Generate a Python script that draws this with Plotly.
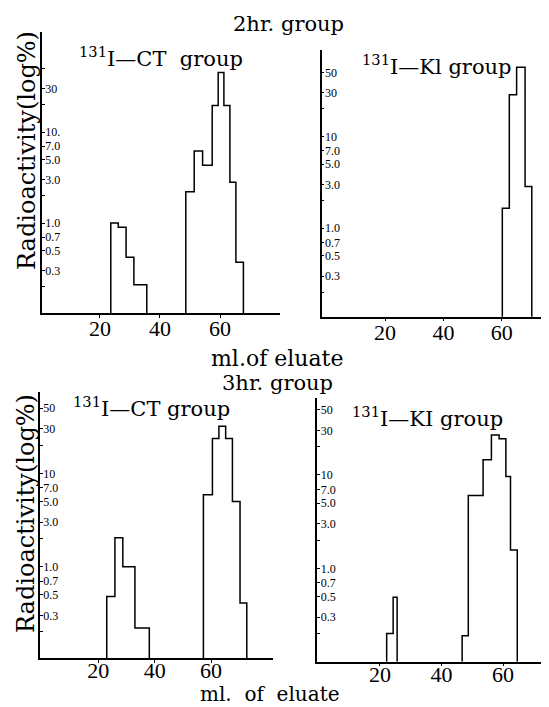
import plotly.graph_objects as go

PAGE_W, PAGE_H = 549, 707
OFF = 8  # default HTML body margin around the plot div
W, H = PAGE_W - OFF, PAGE_H - OFF
BASE = 0.1

# ---------------- data (ml of eluate edges, radioactivity %) ----------------
p1_edges_a = [23.6, 26.1, 28.7, 31.3, 35.6]
p1_vals_a = [1.0, 0.9, 0.42, 0.21]
p1_edges_b = [48.6, 51.4, 54.2, 57.4, 59.4, 61.3, 63.3, 65.3, 67.8]
p1_vals_b = [2.2, 6.2, 4.3, 19.6, 45, 19.6, 2.8, 0.37]

p2_edges_a = [60.2, 62.6, 65.1, 68.0, 70.3]
p2_vals_a = [1.65, 28.5, 57, 2.85]

p3_edges_a = [23.0, 25.9, 28.7, 33.0, 38.1]
p3_vals_a = [0.48, 2.05, 1.0, 0.22]
p3_edges_b = [57.3, 60.5, 62.8, 65.2, 67.6, 70.3, 72.7]
p3_vals_b = [5.9, 23.7, 32, 23.7, 5.0, 0.41]

p4_edges_a = [22.2, 24.3, 25.6]
p4_vals_a = [0.2, 0.49]
p4_edges_b = [46.7, 48.7, 53.5, 56.2, 58.7, 60.9, 62.4, 64.6]
p4_vals_b = [0.19, 6.0, 14.5, 26.8, 24.3, 9.6, 1.57]

x_ticks = [20, 40, 60]
y_tickvals_p1 = [0.3, 0.5, 0.7, 1, 3, 5, 7, 10, 30]
y_ticktext_p1 = ["0.3", "0.5", "0.7", "1.0", "3.0", "5.0", "7.0", "10.", "30"]
y_tickvals = [0.3, 0.5, 0.7, 1, 3, 5, 7, 10, 30, 50]
y_ticktext = ["0.3", "0.5", "0.7", "1.0", "3.0", "5.0", "7.0", "10", "30", "50"]
y_minor_p1 = [0.2, 2, 20, 50]
y_minor = [0.2, 2, 20]

panel_labels = ["<sup>131</sup>I\u2014CT  group", "<sup>131</sup>I\u2014Kl group",
                "<sup>131</sup>I\u2014CT group", "<sup>131</sup>I\u2014KI group"]
group_titles = ["2hr. group", "3hr. group"]
x_title_top = "ml.of eluate"
x_title_bottom = "ml.  of  eluate"
y_title = "Radioactivity(log%)"

# --------------- layout geometry (page pixels) ---------------
# (x0, x1, xr0, xr1, ytop, ybot, yr_top, yr_bot)
panels = [
    (42, 280, 0.67, 80.0, 32, 313, 2.099, -0.989),
    (321.7, 549, -1.71, 76.2, 50, 316.7, 1.944, -0.964),
    (40, 273, -0.69, 82.0, 392, 658, 1.873, -0.978),
    (317.3, 549, -0.32, 74.9, 398.3, 661.7, 1.82, -1.0),
]

SERIF = "DejaVu Serif"
NUM = "Liberation Serif"

def fx(px):
    return (px - OFF) / W

def fy(py):
    return 1 - (py - OFF) / H

def step_xy(edges, vals):
    xs = [edges[0]] + list(edges)
    ys = [BASE] + list(vals) + [BASE]
    return xs, ys

fig = go.Figure()
data = [
    [(p1_edges_a, p1_vals_a), (p1_edges_b, p1_vals_b)],
    [(p2_edges_a, p2_vals_a)],
    [(p3_edges_a, p3_vals_a), (p3_edges_b, p3_vals_b)],
    [(p4_edges_a, p4_vals_a), (p4_edges_b, p4_vals_b)],
]

for i, groups in enumerate(data):
    sfx = "" if i == 0 else str(i + 1)
    for edges, vals in groups:
        xs, ys = step_xy(edges, vals)
        fig.add_trace(go.Scatter(x=xs, y=ys, mode="lines", line_shape="hv",
                                 line=dict(color="black", width=1.5),
                                 xaxis="x" + sfx, yaxis="y" + sfx,
                                 showlegend=False, hoverinfo="skip", cliponaxis=False))

layout = dict(width=W, height=H, margin=dict(l=0, r=0, t=0, b=0, autoexpand=False),
              paper_bgcolor="white", plot_bgcolor="white", showlegend=False)

for i, (x0, x1, xr0, xr1, yt, yb, yrt, yrb) in enumerate(panels):
    sfx = "" if i == 0 else str(i + 1)
    d0, d1 = max(fx(x0), 0), min(fx(x1), 1)
    span = (xr1 - xr0) / (x1 - x0)
    xr1c = xr0 + span * (min(x1, OFF + W) - x0)
    layout["xaxis" + sfx] = dict(
        domain=[d0, d1], range=[xr0, xr1c], anchor="y" + sfx, automargin=False,
        showgrid=False, zeroline=False, showline=True, linecolor="black", linewidth=1.5,
        tickvals=x_ticks, ticks="outside", ticklen=3, tickcolor="black",
        tickfont=dict(family=NUM, size=22, color="black"),
        ticklabelstandoff=(-8 if i < 2 else -11))
    layout["yaxis" + sfx] = dict(
        domain=[fy(yb), fy(yt)], range=[yrb, yrt], type="log",
        anchor="x" + sfx, automargin=False,
        showgrid=False, zeroline=False, showline=True, linecolor="black", linewidth=1.5,
        tickvals=(y_tickvals_p1 if i == 0 else y_tickvals),
        ticktext=(y_ticktext_p1 if i == 0 else y_ticktext),
        ticks="inside", ticklen=3, tickcolor="black", ticklabelposition="inside",
        minor=dict(tickvals=(y_minor_p1 if i == 0 else y_minor), ticks="inside",
                   ticklen=3, tickcolor="black", showgrid=False),
        tickfont=dict(family=NUM, size=12, color="black"))

fig.update_layout(**layout)

def ann(text, px, py, size, family=SERIF, angle=0):
    fig.add_annotation(text=text, x=fx(px), y=fy(py), xref="paper", yref="paper",
                       showarrow=False, textangle=angle, xanchor="center", yanchor="middle",
                       font=dict(family=family, size=size, color="black"))

ann(group_titles[0], 288, 24, 21)
ann(x_title_top, 277, 358, 22)
ann(group_titles[1], 277, 383, 21)
ann(x_title_bottom, 270, 694, 20)
ann(y_title, 27, 151, 24, angle=-90)
ann(y_title, 26, 514, 24, angle=-90)
ann(panel_labels[0], 161, 57, 21)
ann(panel_labels[1], 437, 65, 21)
ann(panel_labels[2], 151, 407, 21)
ann(panel_labels[3], 427, 417, 21)

fig.write_html("out.html")
